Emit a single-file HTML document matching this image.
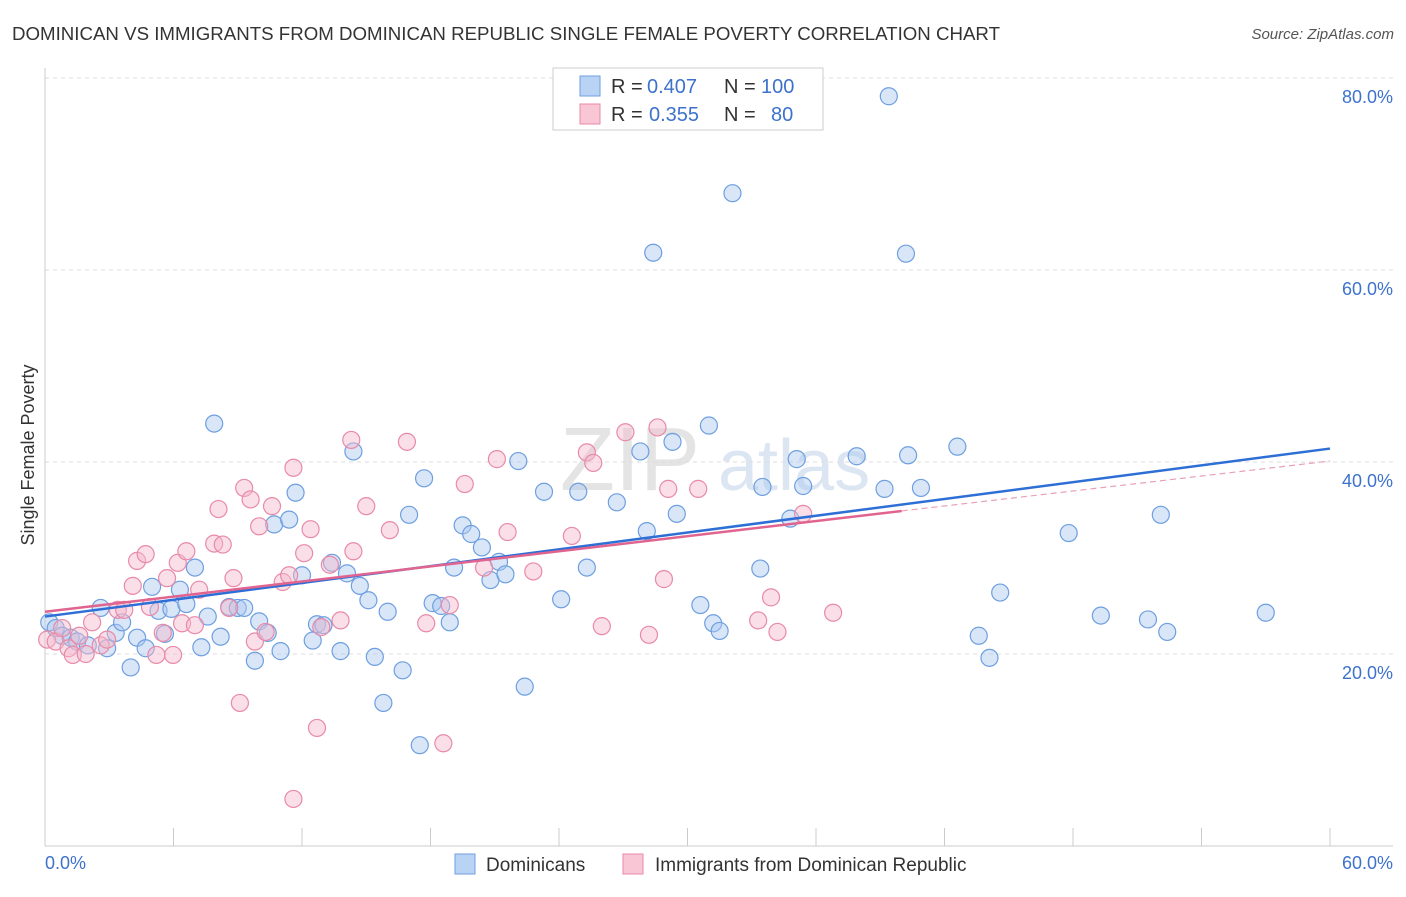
<!DOCTYPE html>
<html><head><meta charset="utf-8"><style>
body{margin:0;background:#fff;font-family:"Liberation Sans",sans-serif}
svg text{font-family:"Liberation Sans",sans-serif}
</style></head><body>
<svg id="c" width="1406" height="892">
<text x="12" y="40" font-size="18" fill="#333" textLength="988" lengthAdjust="spacingAndGlyphs">DOMINICAN VS IMMIGRANTS FROM DOMINICAN REPUBLIC SINGLE FEMALE POVERTY CORRELATION CHART</text>
<text x="1394" y="39" font-size="15" fill="#555" font-style="italic" text-anchor="end">Source: ZipAtlas.com</text>
<text x="560" y="490" font-size="90" fill="#e4e4e4" font-family="Liberation Serif">ZIP</text>
<text x="718" y="490" font-size="72" fill="#dce6f3">atlas</text>
<g id="grid"></g><g id="axes"></g><g id="pts"></g><g id="lines"></g>
<text transform="translate(34,455) rotate(-90)" font-size="18" fill="#333" text-anchor="middle">Single Female Poverty</text>
<text x="45" y="869" font-size="18" fill="#3d72cc">0.0%</text>
<text x="1393" y="869" font-size="18" fill="#3d72cc" text-anchor="end">60.0%</text>
<g>
<rect x="553" y="68" width="270" height="62" fill="#fff" stroke="#ccc"/>
<rect x="580" y="76" width="20" height="20" fill="#b9d3f5" stroke="#6e9fe0"/>
<rect x="580" y="104" width="20" height="20" fill="#f9c6d5" stroke="#e88aa8"/>
<text x="611" y="93" font-size="20" fill="#333">R =</text>
<text x="647" y="93" font-size="20" fill="#3d72cc">0.407</text>
<text x="724" y="93" font-size="20" fill="#333">N =</text>
<text x="761" y="93" font-size="20" fill="#3d72cc">100</text>
<text x="611" y="121" font-size="20" fill="#333">R =</text>
<text x="649" y="121" font-size="20" fill="#3d72cc">0.355</text>
<text x="724" y="121" font-size="20" fill="#333">N =</text>
<text x="771" y="121" font-size="20" fill="#3d72cc">80</text>
</g>
<g>
<rect x="455" y="854" width="20" height="20" fill="#b9d3f5" stroke="#6e9fe0"/>
<text x="486" y="871" font-size="19" fill="#333">Dominicans</text>
<text x="655" y="871" font-size="19" fill="#333">Immigrants from Dominican Republic</text>
<rect x="623" y="854" width="20" height="20" fill="#f9c6d5" stroke="#e88aa8"/>
</g>
</svg>
<script>
const yTicks=[20,40,60,80];
const yTickLabels=["20.0%","40.0%","60.0%","80.0%"];
const xTicks=[0,6,12,18,24,30,36,42,48,54,60];
const blueX=[0.2,0.5,0.8,1.2,1.5,2.0,2.6,2.9,3.3,3.6,4.0,4.3,4.7,5.0,5.3,5.6,5.9,6.3,6.6,7.0,7.3,7.6,7.9,8.2,8.6,9.0,9.3,9.8,10.0,10.4,10.7,11.0,11.4,11.7,12.0,12.5,12.7,13.0,13.4,13.8,14.1,14.4,14.7,15.1,15.4,15.8,16.0,16.7,17.0,17.5,17.7,18.1,18.5,18.9,19.1,19.5,19.9,20.4,20.8,21.2,21.5,22.1,22.4,23.3,24.1,24.9,25.3,26.7,27.8,28.1,28.4,29.3,29.5,30.6,31.2,31.5,31.0,32.1,33.5,33.4,34.8,35.1,35.4,37.9,39.2,39.4,40.2,40.3,40.9,42.6,43.6,44.1,44.6,47.8,49.3,51.5,52.1,52.4,57.0];
const blueY=[23.3,22.7,21.9,21.7,21.3,20.9,24.8,20.6,22.2,23.3,18.6,21.7,20.6,27.0,24.5,22.1,24.7,26.7,25.2,29.0,20.7,23.9,44.0,21.8,24.9,24.8,24.8,19.3,23.4,22.2,33.5,20.3,34.0,36.8,28.2,21.4,23.1,23.0,29.5,20.3,28.4,41.1,27.1,25.6,19.7,14.9,24.4,18.3,34.5,10.5,38.3,25.3,25.0,23.3,29.0,33.4,32.5,31.1,27.7,29.6,28.3,40.1,16.6,36.9,25.7,36.9,29.0,35.8,41.1,32.8,61.8,42.1,34.6,25.1,23.2,22.4,43.8,68.0,37.4,28.9,34.1,40.3,37.5,40.6,37.2,78.1,61.7,40.7,37.3,41.6,21.9,19.6,26.4,32.6,24.0,23.6,34.5,22.3,24.3];
const pinkX=[0.1,0.5,0.8,1.1,1.3,1.6,1.9,2.2,2.6,2.9,3.4,3.7,4.1,4.3,4.7,4.9,5.2,5.5,5.7,5.98,6.2,6.4,6.6,7.0,7.2,7.9,8.1,8.3,8.6,8.8,9.1,9.3,9.6,9.8,10.0,10.3,10.6,11.1,11.4,11.6,11.6,12.1,12.4,12.7,12.9,13.3,13.8,14.3,14.4,15.0,16.1,16.9,17.8,18.6,18.9,19.6,20.5,21.1,21.6,22.8,24.6,25.3,25.6,26.0,27.1,28.2,28.6,28.9,29.1,30.5,33.3,33.9,34.2,35.4,36.8];
const pinkY=[21.5,21.3,22.7,20.6,19.9,21.9,20.0,23.3,20.9,21.5,24.6,24.6,27.1,29.7,30.4,24.9,19.9,22.2,27.9,19.9,29.5,23.2,30.7,23.0,26.7,31.5,35.1,31.4,24.8,27.9,14.9,37.3,36.1,21.3,33.3,22.3,35.4,27.5,28.2,39.4,4.9,30.5,33.0,12.3,22.8,29.3,23.5,42.3,30.7,35.4,32.9,42.1,23.2,10.7,25.1,37.7,29.0,40.3,32.7,28.6,32.3,41.0,39.9,22.9,43.1,22.0,43.6,27.8,37.2,37.2,23.5,25.9,22.3,34.6,24.3];
const blueTrend=[23.9,41.4]; // value at x=0 and x=60
const pinkTrend=[24.4,34.9,40.1]; // at x=0, x=40, x=60 (dashed)
const X0=45,X1=1330,Y0=846,PPY=9.6;
const sx=v=>X0+(v/60)*(X1-X0), sy=v=>Y0-v*PPY;
const NS="http://www.w3.org/2000/svg";
function mk(t,a,p){const e=document.createElementNS(NS,t);for(const k in a)e.setAttribute(k,a[k]);p.appendChild(e);return e;}
const grid=document.getElementById('grid'),axes=document.getElementById('axes'),pts=document.getElementById('pts'),lines=document.getElementById('lines');
yTicks.forEach((t,i)=>{
 const l=mk('line',{x1:45,x2:1393,y1:sy(t),y2:sy(t),stroke:'#ddd','stroke-dasharray':'4,4'},grid);
 
 
 const tx=mk('text',{x:1393,y:sy(t)+25,'font-size':18,fill:'#3d72cc','text-anchor':'end'},grid);
 tx.textContent=yTickLabels[i];
 
 
});
const ax=mk('line',{x1:45,x2:45,y1:68,y2:846,stroke:'#ccc'},axes);


const bx=mk('line',{x1:45,x2:1393,y1:846,y2:846,stroke:'#ccc'},axes);


xTicks.forEach(t=>{
 const l=mk('line',{x1:sx(t),x2:sx(t),y1:828,y2:846,stroke:'#ccc'},axes);
 
 
});
function dots(X,Y,fill,stroke,name){X.forEach((x,i)=>{
 const c=mk('circle',{cx:sx(x),cy:sy(Y[i]),r:8.5,fill:fill,'fill-opacity':0.45,stroke:stroke,'stroke-width':1.2},pts);
 
 
});}
dots(blueX,blueY,'#a9c8f0','#6e9fe0','dominican-point');
dots(pinkX,pinkY,'#f5b8cc','#e88aa8','immigrant-point');
const bl=mk('line',{x1:sx(0),y1:sy(blueTrend[0]),x2:sx(60),y2:sy(blueTrend[1]),stroke:'#2e6fd6','stroke-width':2.5},lines);


const pl=mk('line',{x1:sx(0),y1:sy(pinkTrend[0]),x2:sx(40),y2:sy(pinkTrend[1]),stroke:'#e0648f','stroke-width':2.5},lines);


const pd=mk('line',{x1:sx(40),y1:sy(pinkTrend[1]),x2:sx(60),y2:sy(pinkTrend[2]),stroke:'#e8a0b8','stroke-width':1.2,'stroke-dasharray':'6,4'},lines);


</script>
</body></html>
